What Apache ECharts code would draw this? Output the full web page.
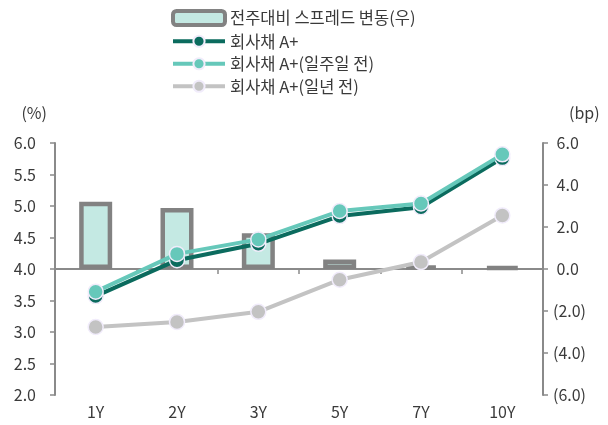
<!DOCTYPE html>
<html><head><meta charset="utf-8">
<script src="https://cdn.jsdelivr.net/npm/echarts@6/dist/echarts.min.js"></script>
<style>html,body{margin:0;padding:0;background:#fff}#c{width:608px;height:425px}</style>
</head><body><div id="c"></div>
<script>
const categories = ['1Y','2Y','3Y','5Y','7Y','10Y'];
const spreadChange = [3.2, 2.9, 1.7, 0.45, 0.15, 0.1];
const corpNow = [3.57, 4.14, 4.40, 4.84, 4.98, 5.76];
const corpWeekAgo = [3.64, 4.24, 4.47, 4.92, 5.04, 5.82];
const corpYearAgo = [3.08, 3.16, 3.32, 3.83, 4.11, 4.85];
const leftTicks = {min: 2, max: 6, interval: 0.5};
const rightTicks = {min: -6, max: 6, interval: 2};
const names = ['전주대비 스프레드 변동(우)', '회사채 A+', '회사채 A+(일주일 전)', '회사채 A+(일년 전)'];

const font = 'Noto Sans CJK KR';
const txt = '#3a3a3a';
const axisGray = '#8a8a8a';
const chart = echarts.init(document.getElementById('c'));
function lineSeries(name, data, color, z) {
  return {name, type:'line', data, yAxisIndex:0, xAxisIndex:0, z,
    symbol:'circle', symbolSize:15,
    lineStyle:{color, width:4},
    itemStyle:{color, borderColor:'#f1ecfb', borderWidth:1.5}};
}
chart.setOption({
  animation:false,
  textStyle:{fontFamily:font},
  legend:{orient:'vertical', left:166, top:4, itemGap:6, itemWidth:52, itemHeight:14,
    textStyle:{fontSize:16.5, color:txt, fontFamily:font},
    data:[
      {name:names[0], itemStyle:{borderWidth:4, borderColor:'#828282'}},
      {name:names[1], lineStyle:{width:4}},
      {name:names[2], lineStyle:{width:4}},
      {name:names[3], lineStyle:{width:4}}
    ]},
  grid:{left:55, right:65, top:143, bottom:30, containLabel:false},
  xAxis:[
    {type:'category', data:categories, position:'bottom',
      axisLine:{show:false}, axisTick:{show:false},
      axisLabel:{fontSize:16, color:txt, margin:9}},
    {type:'category', data:categories, position:'bottom',
      axisLine:{show:true, onZero:true, onZeroAxisIndex:1, lineStyle:{color:axisGray, width:2}},
      axisTick:{show:true, length:5, lineStyle:{color:axisGray, width:1.5}},
      axisLabel:{show:false}}
  ],
  yAxis:[
    {type:'value', position:'left', min:leftTicks.min, max:leftTicks.max, interval:leftTicks.interval,
      name:'(%)', nameLocation:'end', nameGap:22, nameTextStyle:{fontSize:16, color:txt, align:'right', padding:[0,8,0,0]},
      axisLine:{show:true, lineStyle:{color:axisGray, width:2}},
      axisTick:{show:true, length:5, lineStyle:{color:axisGray, width:1.5}},
      splitLine:{show:false},
      axisLabel:{fontSize:16, color:txt, margin:19, formatter:v=>v.toFixed(1)}},
    {type:'value', position:'right', min:rightTicks.min, max:rightTicks.max, interval:rightTicks.interval,
      name:'(bp)', nameLocation:'end', nameGap:22, nameTextStyle:{fontSize:16, color:txt, align:'left', padding:[0,0,0,26]},
      axisLine:{show:true, lineStyle:{color:axisGray, width:2}},
      axisTick:{show:true, length:5, lineStyle:{color:axisGray, width:1.5}},
      splitLine:{show:false},
      axisLabel:{fontSize:16, color:txt, margin:10, formatter:v=> v<0 ? '('+Math.abs(v).toFixed(1)+')' : ' '+v.toFixed(1)}}
  ],
  series:[
    {name:names[0], type:'bar', data:spreadChange, yAxisIndex:1, xAxisIndex:0, barWidth:33, z:2,
      itemStyle:{color:'#c4e9e3', borderColor:'#828282', borderWidth:4.5}},
    lineSeries(names[3], corpYearAgo, '#c3c3c3', 3),
    lineSeries(names[1], corpNow, '#0b6b5e', 4),
    lineSeries(names[2], corpWeekAgo, '#66c8ba', 5)
  ]
});
</script></body></html>
